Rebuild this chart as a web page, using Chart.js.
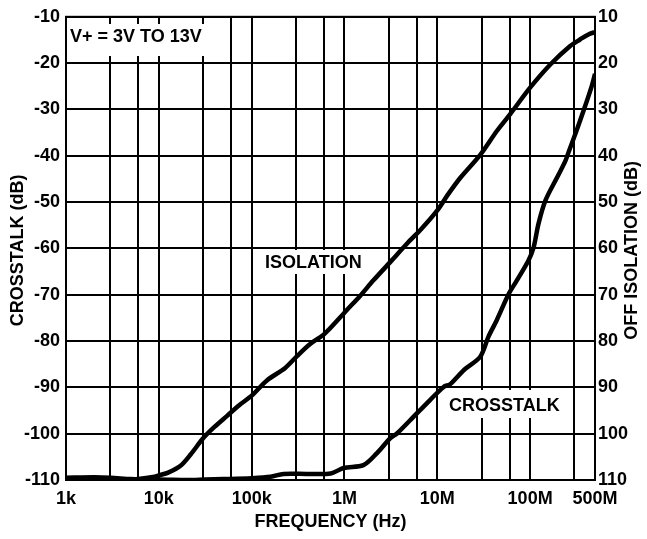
<!DOCTYPE html>
<html>
<head>
<meta charset="utf-8">
<script src="https://cdn.jsdelivr.net/npm/chart.js@4"></script>
<style>
  html, body { margin: 0; padding: 0; background: #fff; }
  #wrap { width: 647px; height: 539px; position: relative; }
</style>
</head>
<body>
<div id="wrap"><canvas id="c" width="647" height="539"></canvas></div>
<script>
// Frequencies (Hz) and values (dB)
const isolationFreq = [1000, 2000, 3000, 5000, 6000, 9000, 10000, 12600, 17000, 22000, 30000, 40000, 54000, 74000, 100000, 146000, 230000, 310000, 430000, 590000, 680000, 1.05e6, 1.48e6, 2.05e6, 3.16e6, 4.7e6, 6.8e6, 1e7, 1.3e7, 1.78e7, 2.9e7, 4.4e7, 6.1e7, 1e8, 1.65e8, 2.7e8, 3.45e8, 4.25e8, 5e8];
const isolationDb = [-109.5, -109.4, -109.5, -109.8, -109.8, -109.3, -109.0, -108.4, -107.0, -104.5, -101.0, -98.5, -96.2, -93.8, -91.8, -88.5, -85.8, -83.2, -80.6, -78.7, -77.5, -73.4, -70.2, -66.9, -62.8, -59.0, -55.7, -51.8, -48.4, -44.7, -39.8, -34.6, -31.0, -25.3, -20.3, -16.3, -14.9, -13.8, -13.3];

const crosstalkFreq = [1000, 2000, 3000, 5600, 10000, 20000, 31600, 50000, 100000, 160000, 220000, 400000, 710000, 980000, 1.6e6, 2.24e6, 3.1e6, 3.7e6, 5.1e6, 8.3e6, 1.17e7, 1.38e7, 1.95e7, 2.9e7, 3.55e7, 4.37e7, 5.89e7, 7.2e7, 9.6e7, 1.09e8, 1.23e8, 1.46e8, 1.95e8, 2.4e8, 2.63e8, 3.16e8, 3.76e8, 4.62e8, 5e8];
const crosstalkDb = [-109.8, -109.6, -109.8, -110.0, -109.9, -110.0, -109.9, -109.8, -109.6, -109.3, -108.7, -108.7, -108.6, -107.4, -106.8, -104.2, -101.0, -99.9, -97.1, -92.8, -89.9, -89.3, -86.2, -83.4, -79.1, -75.5, -69.8, -66.9, -62.6, -59.8, -54.7, -49.7, -44.7, -41.1, -38.9, -34.6, -30.3, -24.9, -22.3];

// Axis ticks
const xGridValues = [1e3, 3e3, 6e3, 1e4, 3e4, 6e4, 1e5, 3e5, 6e5, 1e6, 3e6, 6e6, 1e7, 3e7, 6e7, 1e8, 3e8, 5e8];
const xTickLabels = {1000: '1k', 10000: '10k', 100000: '100k', 1000000: '1M', 10000000: '10M', 100000000: '100M', 500000000: '500M'};
const yMin = -110, yMax = -10, yStep = 10;

const FONT = 'bold 18px "Liberation Sans", Arial, sans-serif';
const tickFont = { family: '"Liberation Sans", Arial, sans-serif', size: 18, weight: 'bold' };

const toPoints = (xs, ys) => xs.map((x, i) => ({ x: x, y: ys[i] }));

const annotations = [
  { text: 'V+ = 3V TO 13V', x: 70, y: 37, box: [67, 24, 142, 32] },
  { text: 'ISOLATION', x: 265, y: 263, box: [261, 250, 104, 24] },
  { text: 'CROSSTALK', x: 449, y: 406, box: [445, 390, 124, 28] }
];

const decorPlugin = {
  id: 'decor',
  beforeDatasetsDraw(chart) {
    const ctx = chart.ctx;
    ctx.save();
    ctx.font = FONT;
    ctx.textBaseline = 'middle';
    ctx.textAlign = 'left';
    annotations.forEach(a => {
      ctx.fillStyle = '#fff';
      ctx.fillRect(a.box[0], a.box[1], a.box[2], a.box[3]);
      ctx.fillStyle = '#000';
      ctx.fillText(a.text, a.x, a.y);
    });
    ctx.restore();
  },
  afterDraw(chart) {
    const ctx = chart.ctx;
    const area = chart.chartArea;
    ctx.save();
    ctx.font = FONT;
    ctx.fillStyle = '#000';
    ctx.textAlign = 'center';
    ctx.textBaseline = 'middle';
    ctx.fillText('FREQUENCY (Hz)', (area.left + area.right) / 2, 522);
    const cy = (area.top + area.bottom) / 2 + 2;
    ctx.save();
    ctx.translate(18, cy);
    ctx.rotate(-Math.PI / 2);
    ctx.fillText('CROSSTALK (dB)', 0, 0);
    ctx.restore();
    ctx.save();
    ctx.translate(632, cy);
    ctx.rotate(-Math.PI / 2);
    ctx.fillText('OFF ISOLATION (dB)', 0, 0);
    ctx.restore();
    // plot frame
    ctx.strokeStyle = '#000';
    ctx.lineWidth = 2;
    ctx.strokeRect(area.left, area.top, area.right - area.left, area.bottom - area.top);
    ctx.restore();
  }
};

new Chart(document.getElementById('c'), {
  type: 'line',
  data: {
    datasets: [
      { label: 'ISOLATION', data: toPoints(isolationFreq, isolationDb), borderColor: '#000', borderWidth: 4.5, pointRadius: 0, tension: 0.3, fill: false },
      { label: 'CROSSTALK', data: toPoints(crosstalkFreq, crosstalkDb), borderColor: '#000', borderWidth: 4.5, pointRadius: 0, tension: 0.3, fill: false }
    ]
  },
  options: {
    responsive: false,
    animation: false,
    devicePixelRatio: 1,
    layout: { padding: { top: 16, left: 0, right: 0, bottom: 0 } },
    plugins: { legend: { display: false }, tooltip: { enabled: false } },
    scales: {
      x: {
        type: 'logarithmic',
        min: 1000, max: 5e8,
        afterBuildTicks: s => { s.ticks = xGridValues.map(v => ({ value: v })); },
        afterFit: s => { s.height = 59; },
        ticks: {
          autoSkip: false, maxRotation: 0, minRotation: 0, padding: 8,
          color: '#000', font: tickFont,
          callback: v => xTickLabels[Math.round(v)] || ''
        },
        grid: { color: '#000', lineWidth: 2, drawTicks: false },
        border: { display: true, color: '#000', width: 2 }
      },
      y: {
        type: 'linear', position: 'left',
        min: yMin, max: yMax,
        afterFit: s => { s.width = 66; },
        ticks: { stepSize: yStep, padding: 6, color: '#000', font: tickFont },
        grid: { color: '#000', lineWidth: 2, drawTicks: false },
        border: { display: true, color: '#000', width: 2 }
      },
      y2: {
        type: 'linear', position: 'right',
        min: yMin, max: yMax,
        afterFit: s => { s.width = 52; },
        ticks: { stepSize: yStep, padding: 3, color: '#000', font: tickFont, callback: v => String(-v) },
        grid: { drawOnChartArea: false, drawTicks: false },
        border: { display: true, color: '#000', width: 2 }
      }
    }
  },
  plugins: [decorPlugin]
});
</script>
</body>
</html>
